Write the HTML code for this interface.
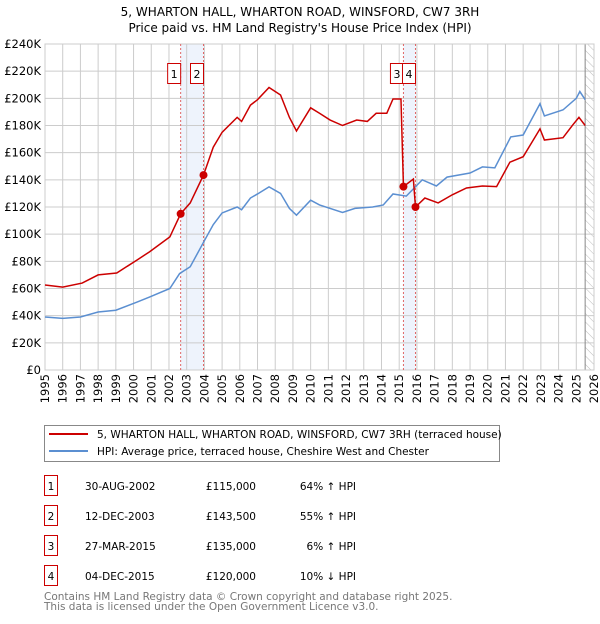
<!DOCTYPE html>
<html><head><meta charset="utf-8"><style>
body{margin:0;background:#fff;font-family:"DejaVu Sans","Liberation Sans",sans-serif;}
svg text{font-family:"DejaVu Sans","Liberation Sans",sans-serif;}
</style></head><body>
<svg id="c" width="600" height="620" xmlns="http://www.w3.org/2000/svg">
<defs><pattern id="hatch" width="6" height="6" patternUnits="userSpaceOnUse" patternTransform="rotate(-45)"><line x1="0" y1="0" x2="0" y2="6" stroke="#bbb" stroke-width="1"/></pattern></defs>
<text x="300" y="16" text-anchor="middle" font-size="12">5, WHARTON HALL, WHARTON ROAD, WINSFORD, CW7 3RH</text>
<text x="300" y="32" text-anchor="middle" font-size="12">Price paid vs. HM Land Registry's House Price Index (HPI)</text>
<g id="plot"></g>
<g>
<rect x="44.5" y="425.5" width="455" height="36" fill="#fff" stroke="#888"/>
<line x1="49" y1="434" x2="88" y2="434" stroke="#cc0000" stroke-width="2"/>
<text x="97" y="438" font-size="10.5">5, WHARTON HALL, WHARTON ROAD, WINSFORD, CW7 3RH (terraced house)</text>
<line x1="49" y1="451" x2="88" y2="451" stroke="#5b8fd1" stroke-width="2"/>
<text x="97" y="455" font-size="10.5">HPI: Average price, terraced house, Cheshire West and Chester</text>
</g>
<g id="table" font-size="10.5"></g>
<text x="44" y="600" font-size="10.5" fill="#777">Contains HM Land Registry data © Crown copyright and database right 2025.</text>
<text x="44" y="610" font-size="10.5" fill="#777">This data is licensed under the Open Government Licence v3.0.</text>
</svg>
<script>
const hpiYears=[1995,1996,1997,1998,1999,2000.2,2000.9,2002.05,2002.6,2003.2,2003.95,2004.5,2005,2005.85,2006.1,2006.6,2007,2007.65,2008.3,2008.8,2009.2,2010,2010.5,2011.8,2012.5,2013.5,2014.1,2014.65,2015.4,2016.3,2017.1,2017.7,2019,2019.7,2020.4,2021.3,2022,2022.95,2023.2,2024.25,2025,2025.2,2025.5];
const hpiValues=[39,38,39,42.7,44,50,53.7,60,71,76,94,107,115.6,120,118,126.6,129.6,134.8,130,119,114,125,121.5,116,119,120,121.5,129.6,128,140,135.5,142,145,149.5,148.8,171.6,173,196,187,191.5,200,205,199];
const propYears=[1995,1996,1997.1,1998,1999.05,2000.2,2000.9,2002.05,2002.66,2003.2,2003.95,2004.5,2005,2005.85,2006.1,2006.6,2007,2007.65,2008.3,2008.8,2009.2,2010,2010.5,2011.1,2011.8,2012.6,2013.2,2013.7,2014.3,2014.65,2015.1,2015.24,2015.8,2015.92,2016.45,2017.2,2018,2018.8,2019.7,2020.5,2021.25,2022,2022.95,2023.2,2024.25,2024.8,2025.15,2025.5];
const propValues=[62.6,61,64,70,71.4,81,87,98,115,123,143.5,164,175,186,183,195,199,208,202.5,186,176,193,189,184,180,184,183,189,189,199.5,199.5,135,140.6,120,126.6,123,129,134,135.5,135,153,157,177.5,169.3,171,180.4,186,180];
const saleLabels=["1","2","3","4"];
const saleYears=[2002.66,2003.95,2015.24,2015.92];
const saleValues=[115,143.5,135,120];
const saleDates=["30-AUG-2002","12-DEC-2003","27-MAR-2015","04-DEC-2015"];
const salePrices=["£115,000","£143,500","£135,000","£120,000"];
const saleDiffs=["64% ↑ HPI","55% ↑ HPI","6% ↑ HPI","10% ↓ HPI"];
const yTicks=[0,20,40,60,80,100,120,140,160,180,200,220,240];
const xTicks=[1995,1996,1997,1998,1999,2000,2001,2002,2003,2004,2005,2006,2007,2008,2009,2010,2011,2012,2013,2014,2015,2016,2017,2018,2019,2020,2021,2022,2023,2024,2025,2026];
const L=45,R=594,T=44,B=370;
const x=y=>L+(y-1995)*(R-L)/31;
const yv=v=>B-v*(B-T)/240;
const NS="http://www.w3.org/2000/svg";
const plot=document.getElementById('plot');
function mk(t,a,p){const e=document.createElementNS(NS,t);for(const k in a)e.setAttribute(k,a[k]);(p||plot).appendChild(e);return e;}
const bg=mk('rect',{x:L,y:T,width:R-L,height:B-T,fill:'#fff'});


const sh=mk('rect',{x:x(saleYears[0]),y:T,width:x(saleYears[1])-x(saleYears[0]),height:B-T,fill:'#eef3fc'});


const sh2=mk('rect',{x:x(saleYears[2]),y:T,width:x(saleYears[3])-x(saleYears[2]),height:B-T,fill:'#eef3fc'});


const ht=mk('rect',{x:x(2025.5),y:T,width:R-x(2025.5),height:B-T,fill:'url(#hatch)'});


yTicks.forEach(v=>{
 const g=mk('line',{x1:L,x2:R,y1:yv(v),y2:yv(v),stroke:'#ccc'});
 
 
 const t=mk('text',{x:L-4,y:yv(v)+4,'text-anchor':'end','font-size':'11.5'});
 t.textContent=v==0?'£0':'£'+v+'K';
 
 
});
xTicks.forEach(v=>{
 const g=mk('line',{x1:x(v),x2:x(v),y1:T,y2:B,stroke:'#ccc'});
 
 
 const tx=x(v)+4,ty=B+4;
 const t=mk('text',{x:tx,y:ty,'text-anchor':'end','font-size':'11.5',transform:'rotate(-90 '+tx+' '+ty+')'});
 t.textContent=v;
 
 
});
mk('line',{x1:x(2025.5),x2:x(2025.5),y1:T,y2:B,stroke:'#888'});
const fr=mk('rect',{x:L,y:T,width:R-L,height:B-T,fill:'none',stroke:'#ccc'});


saleYears.forEach((s,i)=>{
 const l=mk('line',{x1:x(s),x2:x(s),y1:T,y2:B,stroke:'#e06666','stroke-dasharray':'2,2'});
 
 
});
const hp=mk('polyline',{points:hpiYears.map((y,i)=>x(y)+','+yv(hpiValues[i])).join(' '),fill:'none',stroke:'#5b8fd1','stroke-width':1.5});


const pp=mk('polyline',{points:propYears.map((y,i)=>x(y)+','+yv(propValues[i])).join(' '),fill:'none',stroke:'#cc0000','stroke-width':1.5});


saleYears.forEach((s,i)=>{
 const c=mk('circle',{cx:x(s),cy:yv(saleValues[i]),r:4,fill:'#cc0000'});
 
 
 const bx=x(s)-13;
 const r=mk('rect',{x:bx,y:63.5,width:13,height:20,fill:'#fff',stroke:'#cc0000'});
 
 
 const t=mk('text',{x:bx+6.5,y:78,'text-anchor':'middle','font-size':'11'});
 t.textContent=saleLabels[i];
 
 
});
const tb=document.getElementById('table');
saleLabels.forEach((s,i)=>{
 const yy=476+i*30;
 const r=mk('rect',{x:44.5,y:yy-0.5,width:13,height:20,fill:'#fff',stroke:'#cc0000'},tb);
 
 
 const cells=[[51,s,'middle'],[85,saleDates[i],'start'],[256,salePrices[i],'end'],[356,saleDiffs[i],'end']];
 cells.forEach(c=>{
  const t=mk('text',{x:c[0],y:yy+14,'text-anchor':c[2]},tb);
  t.textContent=c[1];
  
  
 });
});
</script>
</body></html>
